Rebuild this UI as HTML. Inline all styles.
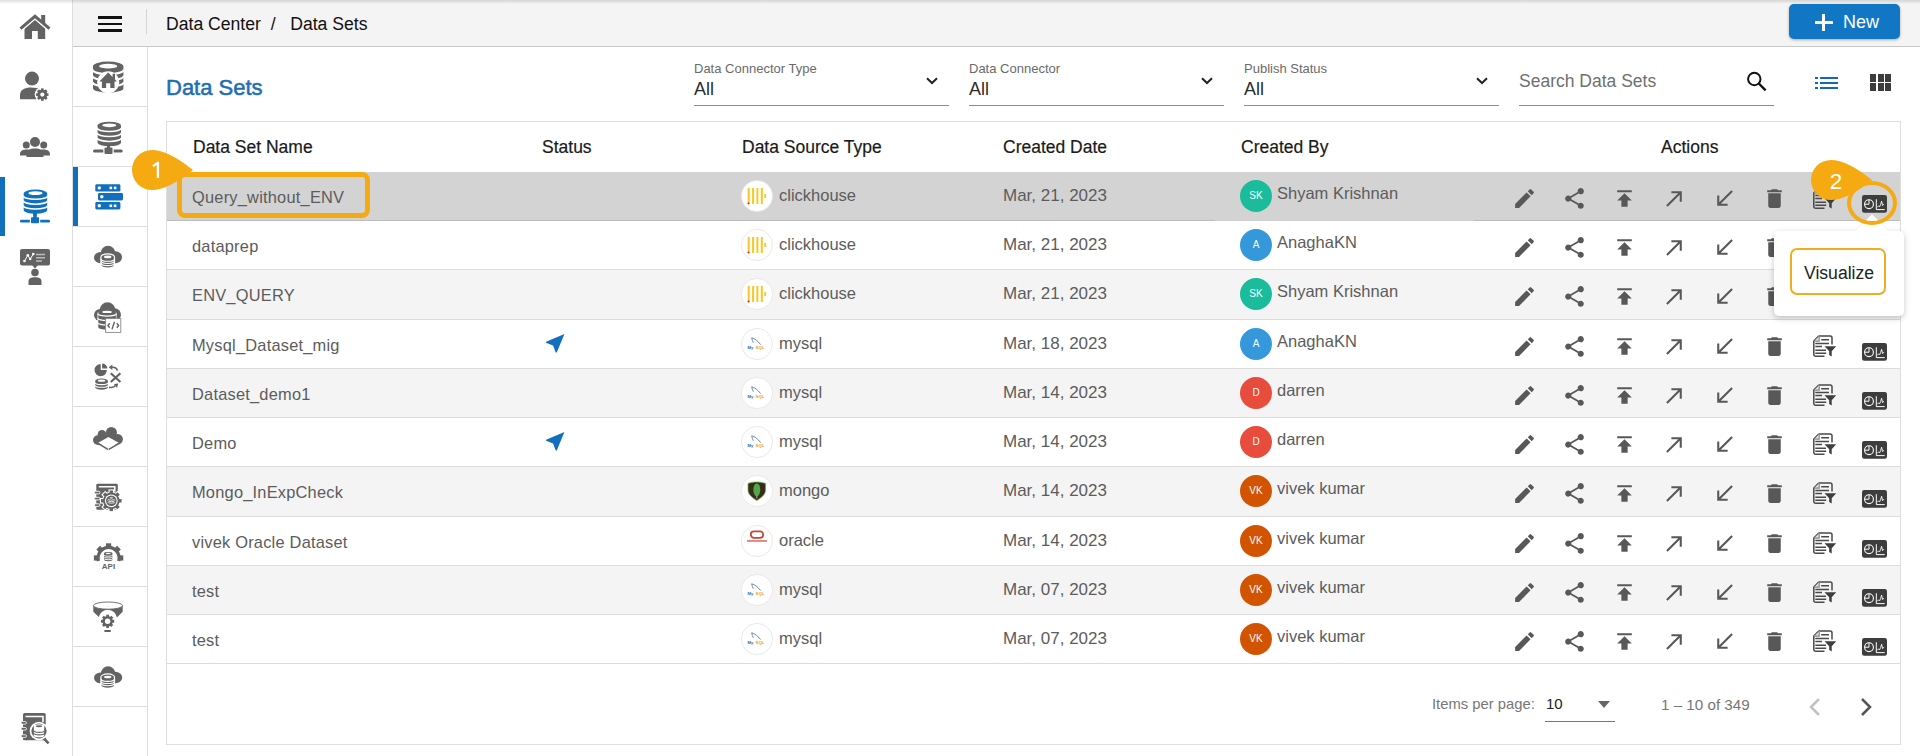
<!DOCTYPE html>
<html><head><meta charset="utf-8">
<style>
*{box-sizing:border-box;margin:0;padding:0}
html,body{width:1920px;height:756px;overflow:hidden;background:#fff;font-family:"Liberation Sans",sans-serif;color:#555}
.a{position:absolute}
svg{display:block;overflow:visible}
.t{position:absolute;white-space:nowrap;line-height:1}
</style></head><body>

<div class="a" style="left:0;top:0;width:72px;height:756px;background:#fff"></div>
<div class="a" style="left:72px;top:0;width:1px;height:756px;background:#dedede"></div>
<div class="a" style="left:73px;top:0;width:1847px;height:46px;background:#f4f4f4"></div>
<div class="a" style="left:73px;top:46px;width:1847px;height:1px;background:#c8c8c8"></div>
<div class="a" style="left:0;top:0;width:1920px;height:4px;background:linear-gradient(rgba(0,0,0,.13),rgba(0,0,0,0))"></div>
<div class="a" style="left:98px;top:16px;width:24px;height:2.6px;background:#111"></div>
<div class="a" style="left:98px;top:22.5px;width:24px;height:2.6px;background:#111"></div>
<div class="a" style="left:98px;top:29px;width:24px;height:2.6px;background:#111"></div>
<div class="a" style="left:146px;top:9px;width:1px;height:25px;background:#d4d4d4"></div>
<div class="t" style="left:166px;top:16px;font-size:17.6px;color:#111">Data Center&nbsp;&nbsp;/&nbsp;&nbsp; Data Sets</div>
<div class="a" style="left:1789px;top:4px;width:111px;height:35px;background:#1177c4;border-radius:5px;box-shadow:0 1px 3px rgba(0,0,0,.3)"></div>
<div class="a" style="left:1815px;top:20.5px;width:17.5px;height:3px;background:#fff"></div>
<div class="a" style="left:1822.3px;top:13.5px;width:3px;height:17px;background:#fff"></div>
<div class="t" style="left:1843px;top:13px;font-size:18px;color:#fff">New</div>
<div class="a" style="left:147px;top:47px;width:1px;height:709px;background:#dedede"></div>
<div class="a" style="left:73px;top:106px;width:74px;height:1px;background:#dedede"></div>
<div class="a" style="left:73px;top:166px;width:74px;height:1px;background:#dedede"></div>
<div class="a" style="left:73px;top:226px;width:74px;height:1px;background:#dedede"></div>
<div class="a" style="left:73px;top:286px;width:74px;height:1px;background:#dedede"></div>
<div class="a" style="left:73px;top:346px;width:74px;height:1px;background:#dedede"></div>
<div class="a" style="left:73px;top:406px;width:74px;height:1px;background:#dedede"></div>
<div class="a" style="left:73px;top:466px;width:74px;height:1px;background:#dedede"></div>
<div class="a" style="left:73px;top:526px;width:74px;height:1px;background:#dedede"></div>
<div class="a" style="left:73px;top:586px;width:74px;height:1px;background:#dedede"></div>
<div class="a" style="left:73px;top:646px;width:74px;height:1px;background:#dedede"></div>
<div class="a" style="left:73px;top:706px;width:74px;height:1px;background:#dedede"></div>
<div class="a" style="left:73px;top:167px;width:5px;height:59px;background:#1170bd"></div>
<div class="a" style="left:0;top:177px;width:5px;height:59px;background:#1170bd"></div>
<svg class="a" style="left:0;top:0" width="150" height="756" viewBox="0 0 150 756">
<path d="M24.5,28.5 35,19.8 45.2,28.5 V39 H37.8 V31 H32 V39 H24.5 Z" fill="#636363"/>
<path d="M20.5,29.2 35,16.8 49.5,29.2" fill="none" stroke="#fff" stroke-width="4.8"/>
<rect x="41.2" y="15" width="4" height="8" fill="#636363"/>
<path d="M20.5,28.6 35,16.3 49.5,28.6" fill="none" stroke="#636363" stroke-width="3.1"/>
<circle cx="32" cy="78.6" r="7" fill="#636363"/>
<path d="M20,99.2 V95 C20,90 25,87.6 31,87.6 C35,87.6 38,88.3 40,89.5 V99.2 Z" fill="#636363"/>
<circle cx="42.3" cy="94.6" r="7.6" fill="#fff"/>
<circle cx="42.3" cy="94.6" r="4.960000000000001" fill="#636363"/><rect x="45.4" y="93.29799999999999" width="3.1" height="2.604" fill="#636363" transform="rotate(0.0 42.3 94.6)"/><rect x="45.4" y="93.29799999999999" width="3.1" height="2.604" fill="#636363" transform="rotate(45.0 42.3 94.6)"/><rect x="45.4" y="93.29799999999999" width="3.1" height="2.604" fill="#636363" transform="rotate(90.0 42.3 94.6)"/><rect x="45.4" y="93.29799999999999" width="3.1" height="2.604" fill="#636363" transform="rotate(135.0 42.3 94.6)"/><rect x="45.4" y="93.29799999999999" width="3.1" height="2.604" fill="#636363" transform="rotate(180.0 42.3 94.6)"/><rect x="45.4" y="93.29799999999999" width="3.1" height="2.604" fill="#636363" transform="rotate(225.0 42.3 94.6)"/><rect x="45.4" y="93.29799999999999" width="3.1" height="2.604" fill="#636363" transform="rotate(270.0 42.3 94.6)"/><rect x="45.4" y="93.29799999999999" width="3.1" height="2.604" fill="#636363" transform="rotate(315.0 42.3 94.6)"/><circle cx="42.3" cy="94.6" r="2.1" fill="#fff"/>
<circle cx="35" cy="142" r="5" fill="#636363"/>
<circle cx="26.3" cy="145" r="3.5" fill="#636363"/>
<circle cx="43.7" cy="145" r="3.5" fill="#636363"/>
<path d="M20,155.5 V154 C20,150.8 23,149.4 27,149.4 C29,149.4 30.5,149.8 31.5,150.3 L38.5,150.3 C39.5,149.8 41,149.4 43,149.4 C47,149.4 50,150.8 50,154 V155.5 Z" fill="#636363"/>
<path d="M26.5,157 V154.5 C26.5,150.5 30,148.6 35,148.6 C40,148.6 43.5,150.5 43.5,154.5 V157 Z" fill="#636363"/>
<path d="M23.7,193.125 A11.75,3.525 0 0 1 47.2,193.125 V210.27499999999998 A11.75,3.525 0 0 1 23.7,210.27499999999998 Z" fill="#1170bd"/><ellipse cx="35.45" cy="193.125" rx="7.05" ry="1.833" fill="#fff"/><path d="M23.2,195.63875 A11.75,3.525 0 0 0 47.7,195.63875" fill="none" stroke="#fff" stroke-width="1.6"/><path d="M23.2,200.51749999999998 A11.75,3.525 0 0 0 47.7,200.51749999999998" fill="none" stroke="#fff" stroke-width="1.6"/><path d="M23.2,205.39624999999998 A11.75,3.525 0 0 0 47.7,205.39624999999998" fill="none" stroke="#fff" stroke-width="1.6"/>
<rect x="33.3" y="213" width="3.4" height="6" fill="#1170bd"/>
<rect x="20" y="219.8" width="30" height="2.8" rx="1.4" fill="#1170bd"/>
<rect x="29.8" y="216.3" width="10.4" height="7.8" fill="#fff"/><rect x="31" y="217.2" width="8" height="6" rx="0.8" fill="#1170bd"/><rect x="33.3" y="213" width="3.4" height="5" fill="#1170bd"/>
<rect x="20" y="249" width="30" height="16.5" rx="2" fill="#636363"/>
<path d="M32,265 35,268.5 38,265Z" fill="#636363"/>
<path d="M24.5,261 27.8,255.3 30.2,259 33.3,254" fill="none" stroke="#fff" stroke-width="1"/><circle cx="24.5" cy="261" r="1.3" fill="#fff"/><circle cx="27.8" cy="255.3" r="1.3" fill="#fff"/><circle cx="30.2" cy="259" r="1.3" fill="#fff"/><circle cx="33.3" cy="254" r="1.3" fill="#fff"/>
<path d="M36,254.5 H45 M36,257.8 H45 M36,261 H42" stroke="#bbb" stroke-width="1.4"/>
<circle cx="35" cy="272.5" r="3.8" fill="#636363"/>
<path d="M28.5,285 V281.5 C28.5,278.5 31,277.2 35,277.2 C39,277.2 41.5,278.5 41.5,281.5 V285 Z" fill="#636363"/>
<rect x="23" y="713" width="22.7" height="27.3" rx="1.5" fill="#636363"/>
<path d="M25.5,716.5 H43 V722" fill="none" stroke="#fff" stroke-width="1.6"/>
<rect x="21" y="721.5" width="5.5" height="2.6" rx="1.3" fill="#636363" stroke="#fff" stroke-width="0.8"/>
<rect x="21" y="727.5" width="5.5" height="2.6" rx="1.3" fill="#636363" stroke="#fff" stroke-width="0.8"/>
<rect x="21" y="734.8" width="5.5" height="2.6" rx="1.3" fill="#636363" stroke="#fff" stroke-width="0.8"/>
<path d="M43,737.5 48.6,743.3" stroke="#636363" stroke-width="2.6"/>
<circle cx="39" cy="731" r="9.3" fill="#fff"/>
<circle cx="39" cy="731" r="7.6" fill="#636363"/>
<path d="M33.8,726.1719999999999 A5.2,1.8719999999999999 0 0 1 44.199999999999996,726.1719999999999 V735.428 A5.2,1.8719999999999999 0 0 1 33.8,735.428 Z" fill="#fff"/><ellipse cx="39.0" cy="726.1719999999999" rx="3.224" ry="0.97344" fill="#636363"/><path d="M33.3,730.2808 A5.2,1.8719999999999999 0 0 0 44.699999999999996,730.2808" fill="none" stroke="#636363" stroke-width="1.1"/><path d="M33.3,732.8543999999999 A5.2,1.8719999999999999 0 0 0 44.699999999999996,732.8543999999999" fill="none" stroke="#636363" stroke-width="1.1"/>
<path d="M93,66.16 A15.2,4.56 0 0 1 123.4,66.16 V88.14 A15.2,4.56 0 0 1 93,88.14 Z" fill="#636363"/><ellipse cx="108.2" cy="66.16" rx="9.12" ry="2.3712" fill="#fff"/><path d="M92.5,69.516 A15.2,4.56 0 0 0 123.9,69.516" fill="none" stroke="#fff" stroke-width="2.2"/><path d="M92.5,75.724 A15.2,4.56 0 0 0 123.9,75.724" fill="none" stroke="#fff" stroke-width="2.2"/><path d="M92.5,81.932 A15.2,4.56 0 0 0 123.9,81.932" fill="none" stroke="#fff" stroke-width="2.2"/>
<circle cx="108.2" cy="82.3" r="11" fill="#fff"/>
<path d="M99.3,81.5 108.2,72.5 112.6,77 V73.8 H115 V79.5 L117,81.5 H114.5 V88 H110.3 V83.2 H106.1 V88 H101.9 V81.5 Z" fill="#636363"/>
<path d="M97.6,125.31 A11.7,3.51 0 0 1 121.0,125.31 V142.79000000000002 A11.7,3.51 0 0 1 97.6,142.79000000000002 Z" fill="#636363"/><ellipse cx="109.3" cy="125.31" rx="7.02" ry="1.8252" fill="#fff"/><path d="M97.1,127.8185 A11.7,3.51 0 0 0 121.5,127.8185" fill="none" stroke="#fff" stroke-width="1.6"/><path d="M97.1,132.809 A11.7,3.51 0 0 0 121.5,132.809" fill="none" stroke="#fff" stroke-width="1.6"/><path d="M97.1,137.79950000000002 A11.7,3.51 0 0 0 121.5,137.79950000000002" fill="none" stroke="#fff" stroke-width="1.6"/>
<rect x="107" y="146" width="3" height="5" fill="#636363"/>
<rect x="93" y="149.5" width="29.7" height="3" rx="1.5" fill="#636363"/>
<rect x="103.3" y="146.5" width="10.4" height="8.3" fill="#fff"/><rect x="104.5" y="147.5" width="8" height="6.5" rx="1" fill="#636363"/><rect x="107" y="146" width="3" height="3" fill="#636363"/>
<rect x="95.3" y="184.3" width="25.10000000000001" height="7.3" rx="1.4" fill="#1170bd"/>
<rect x="98" y="193.1" width="25" height="7.3" rx="1.4" fill="#1170bd"/>
<rect x="95.3" y="202.1" width="25.10000000000001" height="7.3" rx="1.4" fill="#1170bd"/>
<circle cx="99.3" cy="187.9" r="1.7" fill="#fff"/><rect x="109.5" y="186.6" width="2.6" height="2.6" fill="#fff"/><rect x="113.8" y="186.6" width="2.6" height="2.6" fill="#fff"/>
<circle cx="101.8" cy="196.8" r="1.7" fill="#fff"/>
<circle cx="99.3" cy="205.8" r="1.7" fill="#fff"/><rect x="109.5" y="204.5" width="2.6" height="2.6" fill="#fff"/><rect x="113.8" y="204.5" width="2.6" height="2.6" fill="#fff"/>
<circle cx="108.0" cy="253.20000000000002" r="7.4" fill="#636363"/><ellipse cx="100.44" cy="257.64" rx="6.44" ry="5.55" fill="#636363"/><ellipse cx="115.28" cy="257.27000000000004" rx="6.72" ry="5.92" fill="#636363"/><rect x="99.6" y="255.05" width="16.8" height="8.14" fill="#636363"/>
<path d="M100.3,256.88 A7.4,3.6800000000000006 0 0 1 115.10000000000001,256.88 V265.12 A7.4,3.6800000000000006 0 0 1 100.3,265.12 Z" fill="#fff"/><path d="M101.5,256.88 A6.2,2.4800000000000004 0 0 1 113.9,256.88 V265.12 A6.2,2.4800000000000004 0 0 1 101.5,265.12 Z" fill="#636363"/><ellipse cx="107.7" cy="256.88" rx="3.7199999999999998" ry="1.2896000000000003" fill="#fff"/><path d="M101.0,258.628 A6.2,2.4800000000000004 0 0 0 114.4,258.628" fill="none" stroke="#fff" stroke-width="1.1"/><path d="M101.0,260.792 A6.2,2.4800000000000004 0 0 0 114.4,260.792" fill="none" stroke="#fff" stroke-width="1.1"/><path d="M101.0,262.956 A6.2,2.4800000000000004 0 0 0 114.4,262.956" fill="none" stroke="#fff" stroke-width="1.1"/>
<circle cx="107.5" cy="310.3" r="8.0" fill="#636363"/><ellipse cx="100.21" cy="315.1" rx="6.21" ry="6.0" fill="#636363"/><ellipse cx="114.52" cy="314.7" rx="6.4799999999999995" ry="6.4" fill="#636363"/><rect x="99.4" y="312.3" width="16.2" height="8.8" fill="#636363"/>
<path d="M97.5,313 A9.5,3 0 0 1 116.5,313 V326 A9.5,3 0 0 1 97.5,326 Z" fill="#fff"/>
<path d="M98.3,311.88800000000003 A8.8,2.2880000000000003 0 0 1 115.9,311.88800000000003 V327.312 A8.8,2.2880000000000003 0 0 1 98.3,327.312 Z" fill="#636363"/><ellipse cx="107.1" cy="311.88800000000003" rx="4.840000000000001" ry="1.1897600000000002" fill="#fff"/><path d="M97.8,313.72880000000004 A8.8,2.2880000000000003 0 0 0 116.4,313.72880000000004" fill="none" stroke="#fff" stroke-width="1.3"/><path d="M97.8,318.2565333333334 A8.8,2.2880000000000003 0 0 0 116.4,318.2565333333334" fill="none" stroke="#fff" stroke-width="1.3"/><path d="M97.8,322.78426666666667 A8.8,2.2880000000000003 0 0 0 116.4,322.78426666666667" fill="none" stroke="#fff" stroke-width="1.3"/>
<rect x="105.6" y="318.6" width="15.2" height="13.8" fill="#fff" stroke="#888" stroke-width="0.9"/>
<path d="M109.7,323.3 107.9,325.5 109.7,327.7 M116.8,323.3 118.6,325.5 116.8,327.7 M114.5,321.8 112,329.2" fill="none" stroke="#636363" stroke-width="1.4"/>
<path d="M100.7,370.1 V363.9 A6.2,6.2 0 1 0 106.9,370.1 Z" fill="#636363"/>
<path d="M102.1,368.5 V363.5 A5.3,5.3 0 0 1 107.4,368.5 Z" fill="#636363"/>
<path d="M95.2,380.659 A6.35,2.1590000000000003 0 0 1 107.9,380.659 V387.541 A6.35,2.1590000000000003 0 0 1 95.2,387.541 Z" fill="#636363"/><ellipse cx="101.55" cy="380.659" rx="3.8099999999999996" ry="1.1226800000000001" fill="#fff"/><path d="M94.7,382.29465 A6.35,2.1590000000000003 0 0 0 108.4,382.29465" fill="none" stroke="#fff" stroke-width="1.1"/><path d="M94.7,384.917825 A6.35,2.1590000000000003 0 0 0 108.4,384.917825" fill="none" stroke="#fff" stroke-width="1.1"/>
<path d="M110.8,373.2 120.4,382 M120.4,373.2 110.8,382" stroke="#636363" stroke-width="2.2"/>
<path d="M117.4,370.6 C116.8,368 114.5,367 111.5,367.3" fill="none" stroke="#636363" stroke-width="1.7"/><path d="M108.8,367.3 112.3,364.5 112.3,370Z" fill="#636363"/>
<path d="M109,387.3 C112,387.8 114.5,387 115.5,385.4" fill="none" stroke="#636363" stroke-width="1.7"/><path d="M118.2,383.5 114,384 117,388Z" fill="#636363"/>
<circle cx="111.4" cy="432.4" r="5.5" fill="#636363"/><circle cx="102" cy="434.3" r="4.3" fill="#636363"/><circle cx="97.9" cy="440.1" r="4.9" fill="#636363"/><circle cx="117.7" cy="439.2" r="5.2" fill="#636363"/><rect x="97.9" y="434.5" width="19.8" height="10.4" fill="#636363"/>
<path d="M108.4,436.9 118.7,442.8 108.4,448.8 98.3,442.8Z" fill="#fff"/>
<path d="M98.3,442.8 108.4,448.8 118.7,442.8 118.7,444.6 108.4,450.6 98.3,444.6Z" fill="#636363"/>
<path d="M108.4,448.5V450.8" stroke="#fff" stroke-width="0.8"/>
<rect x="96.3" y="483.8" width="21.5" height="26" rx="1.4" fill="#636363"/>
<path d="M98.8,486.8 H114.8 V491.5" fill="none" stroke="#fff" stroke-width="1.5"/>
<rect x="94.4" y="491.3" width="5.6" height="2.6" rx="1.3" fill="#636363" stroke="#fff" stroke-width="0.9"/>
<rect x="94.4" y="497.3" width="5.6" height="2.6" rx="1.3" fill="#636363" stroke="#fff" stroke-width="0.9"/>
<rect x="94.4" y="503.8" width="5.6" height="2.6" rx="1.3" fill="#636363" stroke="#fff" stroke-width="0.9"/>
<circle cx="111.3" cy="500.8" r="9.34" fill="#fff"/><rect x="116.45" y="498.0" width="6.25" height="5.6" fill="#fff" transform="rotate(0.0 111.3 500.8)"/><rect x="116.45" y="498.0" width="6.25" height="5.6" fill="#fff" transform="rotate(45.0 111.3 500.8)"/><rect x="116.45" y="498.0" width="6.25" height="5.6" fill="#fff" transform="rotate(90.0 111.3 500.8)"/><rect x="116.45" y="498.0" width="6.25" height="5.6" fill="#fff" transform="rotate(135.0 111.3 500.8)"/><rect x="116.45" y="498.0" width="6.25" height="5.6" fill="#fff" transform="rotate(180.0 111.3 500.8)"/><rect x="116.45" y="498.0" width="6.25" height="5.6" fill="#fff" transform="rotate(225.0 111.3 500.8)"/><rect x="116.45" y="498.0" width="6.25" height="5.6" fill="#fff" transform="rotate(270.0 111.3 500.8)"/><rect x="116.45" y="498.0" width="6.25" height="5.6" fill="#fff" transform="rotate(315.0 111.3 500.8)"/><circle cx="111.3" cy="500.8" r="8.24" fill="#636363"/><rect x="116.45" y="499.1" width="5.15" height="3.4" fill="#636363" transform="rotate(0.0 111.3 500.8)"/><rect x="116.45" y="499.1" width="5.15" height="3.4" fill="#636363" transform="rotate(45.0 111.3 500.8)"/><rect x="116.45" y="499.1" width="5.15" height="3.4" fill="#636363" transform="rotate(90.0 111.3 500.8)"/><rect x="116.45" y="499.1" width="5.15" height="3.4" fill="#636363" transform="rotate(135.0 111.3 500.8)"/><rect x="116.45" y="499.1" width="5.15" height="3.4" fill="#636363" transform="rotate(180.0 111.3 500.8)"/><rect x="116.45" y="499.1" width="5.15" height="3.4" fill="#636363" transform="rotate(225.0 111.3 500.8)"/><rect x="116.45" y="499.1" width="5.15" height="3.4" fill="#636363" transform="rotate(270.0 111.3 500.8)"/><rect x="116.45" y="499.1" width="5.15" height="3.4" fill="#636363" transform="rotate(315.0 111.3 500.8)"/>
<circle cx="111.3" cy="500.8" r="6.4" fill="#fff"/>
<circle cx="111.3" cy="500.8" r="5.3" fill="#636363"/>
<path d="M108.2,497.854 A3.1,1.054 0 0 1 114.4,497.854 V503.54600000000005 A3.1,1.054 0 0 1 108.2,503.54600000000005 Z" fill="#636363"/><ellipse cx="111.3" cy="497.854" rx="1.8599999999999999" ry="0.54808" fill="#fff"/><path d="M107.7,498.86289999999997 A3.1,1.054 0 0 0 114.9,498.86289999999997" fill="none" stroke="#fff" stroke-width="0.8"/><path d="M107.7,500.4239333333333 A3.1,1.054 0 0 0 114.9,500.4239333333333" fill="none" stroke="#fff" stroke-width="0.8"/><path d="M107.7,501.9849666666667 A3.1,1.054 0 0 0 114.9,501.9849666666667" fill="none" stroke="#fff" stroke-width="0.8"/>
<path d="M96.93,561.57 A12.2,12.2 0 1 1 120.27,561.57 L117.11,560.60 A8.9,8.9 0 1 0 100.09,560.60 Z" fill="#636363"/>
<rect x="118.6" y="555.4" width="4.7" height="5.2" fill="#636363" transform="rotate(180 108.6 558)"/>
<rect x="118.6" y="555.4" width="4.7" height="5.2" fill="#636363" transform="rotate(225 108.6 558)"/>
<rect x="118.6" y="555.4" width="4.7" height="5.2" fill="#636363" transform="rotate(270 108.6 558)"/>
<rect x="118.6" y="555.4" width="4.7" height="5.2" fill="#636363" transform="rotate(315 108.6 558)"/>
<rect x="118.6" y="555.4" width="4.7" height="5.2" fill="#636363" transform="rotate(0 108.6 558)"/>
<path d="M104,553.428 A4.2,1.4280000000000002 0 0 1 112.4,553.428 V559.872 A4.2,1.4280000000000002 0 0 1 104,559.872 Z" fill="#636363"/><ellipse cx="108.2" cy="553.428" rx="2.52" ry="0.7425600000000001" fill="#fff"/><path d="M103.5,554.6478000000001 A4.2,1.4280000000000002 0 0 0 112.9,554.6478000000001" fill="none" stroke="#fff" stroke-width="0.9"/><path d="M103.5,556.3892000000001 A4.2,1.4280000000000002 0 0 0 112.9,556.3892000000001" fill="none" stroke="#fff" stroke-width="0.9"/><path d="M103.5,558.1306 A4.2,1.4280000000000002 0 0 0 112.9,558.1306" fill="none" stroke="#fff" stroke-width="0.9"/>
<text x="108.5" y="568.5" font-family="Liberation Sans" font-weight="bold" font-size="8" text-anchor="middle" fill="#636363">API</text>
<path d="M93.3,605.6 V611.8 L98.8,617 A9.2,9.2 0 0 1 116.9,617.6 L122.7,611.8 V605.6 Z" fill="#636363"/>
<ellipse cx="108" cy="605.6" rx="14.6" ry="3.6" fill="#fff" stroke="#636363" stroke-width="0.9"/>
<circle cx="107.6" cy="621.3" r="5.28" fill="#636363"/><rect x="110.89999999999999" y="619.9" width="3.3" height="2.8" fill="#636363" transform="rotate(0.0 107.6 621.3)"/><rect x="110.89999999999999" y="619.9" width="3.3" height="2.8" fill="#636363" transform="rotate(45.0 107.6 621.3)"/><rect x="110.89999999999999" y="619.9" width="3.3" height="2.8" fill="#636363" transform="rotate(90.0 107.6 621.3)"/><rect x="110.89999999999999" y="619.9" width="3.3" height="2.8" fill="#636363" transform="rotate(135.0 107.6 621.3)"/><rect x="110.89999999999999" y="619.9" width="3.3" height="2.8" fill="#636363" transform="rotate(180.0 107.6 621.3)"/><rect x="110.89999999999999" y="619.9" width="3.3" height="2.8" fill="#636363" transform="rotate(225.0 107.6 621.3)"/><rect x="110.89999999999999" y="619.9" width="3.3" height="2.8" fill="#636363" transform="rotate(270.0 107.6 621.3)"/><rect x="110.89999999999999" y="619.9" width="3.3" height="2.8" fill="#636363" transform="rotate(315.0 107.6 621.3)"/><circle cx="107.6" cy="621.3" r="2.7" fill="#fff"/>
<rect x="104.4" y="630" width="6.4" height="2" fill="#636363"/>
<circle cx="108.1" cy="673.5" r="7.2" fill="#636363"/><ellipse cx="100.486" cy="677.8199999999999" rx="6.486" ry="5.3999999999999995" fill="#636363"/><ellipse cx="115.432" cy="677.4599999999999" rx="6.768" ry="5.76" fill="#636363"/><rect x="99.64" y="675.3" width="16.919999999999998" height="7.92" fill="#636363"/>
<path d="M100.3,676.98 A7.4,3.6800000000000006 0 0 1 115.10000000000001,676.98 V685.22 A7.4,3.6800000000000006 0 0 1 100.3,685.22 Z" fill="#fff"/><path d="M101.5,676.98 A6.2,2.4800000000000004 0 0 1 113.9,676.98 V685.22 A6.2,2.4800000000000004 0 0 1 101.5,685.22 Z" fill="#636363"/><ellipse cx="107.7" cy="676.98" rx="3.7199999999999998" ry="1.2896000000000003" fill="#fff"/><path d="M101.0,678.7280000000001 A6.2,2.4800000000000004 0 0 0 114.4,678.7280000000001" fill="none" stroke="#fff" stroke-width="1.1"/><path d="M101.0,680.892 A6.2,2.4800000000000004 0 0 0 114.4,680.892" fill="none" stroke="#fff" stroke-width="1.1"/><path d="M101.0,683.056 A6.2,2.4800000000000004 0 0 0 114.4,683.056" fill="none" stroke="#fff" stroke-width="1.1"/>
</svg>
<div class="t" style="left:166px;top:77px;font-size:22px;-webkit-text-stroke:0.55px #1f6fb2;color:#1f6fb2">Data Sets</div>
<div class="t" style="left:694px;top:62px;font-size:13px;color:#6a6a6a">Data Connector Type</div>
<div class="t" style="left:694px;top:80px;font-size:18px;color:#2c2c2c">All</div>
<div class="a" style="left:694px;top:105px;width:255px;height:1px;background:#8c8c8c"></div>
<svg class="a" style="left:926px;top:77px" width="12" height="8" viewBox="0 0 12 8"><path d="M1 1.2 6 6 11 1.2" fill="none" stroke="#222" stroke-width="2"/></svg>
<div class="t" style="left:969px;top:62px;font-size:13px;color:#6a6a6a">Data Connector</div>
<div class="t" style="left:969px;top:80px;font-size:18px;color:#2c2c2c">All</div>
<div class="a" style="left:969px;top:105px;width:255px;height:1px;background:#8c8c8c"></div>
<svg class="a" style="left:1201px;top:77px" width="12" height="8" viewBox="0 0 12 8"><path d="M1 1.2 6 6 11 1.2" fill="none" stroke="#222" stroke-width="2"/></svg>
<div class="t" style="left:1244px;top:62px;font-size:13px;color:#6a6a6a">Publish Status</div>
<div class="t" style="left:1244px;top:80px;font-size:18px;color:#2c2c2c">All</div>
<div class="a" style="left:1244px;top:105px;width:255px;height:1px;background:#8c8c8c"></div>
<svg class="a" style="left:1476px;top:77px" width="12" height="8" viewBox="0 0 12 8"><path d="M1 1.2 6 6 11 1.2" fill="none" stroke="#222" stroke-width="2"/></svg>
<div class="t" style="left:1519px;top:73px;font-size:17.5px;color:#707070">Search Data Sets</div>
<div class="a" style="left:1519px;top:105px;width:255px;height:1px;background:#8c8c8c"></div>
<svg class="a" style="left:1746px;top:71px" width="22" height="22" viewBox="0 0 22 22"><circle cx="8.3" cy="8" r="6.2" fill="none" stroke="#111" stroke-width="2"/><path d="M12.8 12.5 19.6 19.3" stroke="#111" stroke-width="2.4"/></svg>
<div class="a" style="left:1815px;top:77px;width:3px;height:2px;background:#1565b8"></div>
<div class="a" style="left:1820px;top:77px;width:18px;height:2px;background:#1565b8"></div>
<div class="a" style="left:1815px;top:82px;width:3px;height:2px;background:#1565b8"></div>
<div class="a" style="left:1820px;top:82px;width:18px;height:2px;background:#1565b8"></div>
<div class="a" style="left:1815px;top:87px;width:3px;height:2px;background:#1565b8"></div>
<div class="a" style="left:1820px;top:87px;width:18px;height:2px;background:#1565b8"></div>
<div class="a" style="left:1870px;top:74px;width:6px;height:7.5px;background:#3c3c3c"></div>
<div class="a" style="left:1870px;top:83px;width:6px;height:7.5px;background:#3c3c3c"></div>
<div class="a" style="left:1878px;top:74px;width:6px;height:7.5px;background:#3c3c3c"></div>
<div class="a" style="left:1878px;top:83px;width:6px;height:7.5px;background:#3c3c3c"></div>
<div class="a" style="left:1885px;top:74px;width:6px;height:7.5px;background:#3c3c3c"></div>
<div class="a" style="left:1885px;top:83px;width:6px;height:7.5px;background:#3c3c3c"></div>
<div class="a" style="left:166px;top:121px;width:1735px;height:624px;border:1px solid #dedede"></div>
<div class="t" style="left:193px;top:139px;font-size:17.5px;color:#1b1b1b;-webkit-text-stroke:0.2px #1b1b1b">Data Set Name</div>
<div class="t" style="left:542px;top:139px;font-size:17.5px;color:#1b1b1b;-webkit-text-stroke:0.2px #1b1b1b">Status</div>
<div class="t" style="left:742px;top:139px;font-size:17.5px;color:#1b1b1b;-webkit-text-stroke:0.2px #1b1b1b">Data Source Type</div>
<div class="t" style="left:1003px;top:139px;font-size:17.5px;color:#1b1b1b;-webkit-text-stroke:0.2px #1b1b1b">Created Date</div>
<div class="t" style="left:1241px;top:139px;font-size:17.5px;color:#1b1b1b;-webkit-text-stroke:0.2px #1b1b1b">Created By</div>
<div class="t" style="left:1661px;top:139px;font-size:17.5px;color:#1b1b1b;-webkit-text-stroke:0.2px #1b1b1b">Actions</div>
<div class="a" style="left:167px;top:172px;width:1733px;height:48px;background:#d3d3d3"></div>
<div class="a" style="left:167px;top:220px;width:1733px;height:1px;background:#bcbcbc"></div>
<div class="a" style="left:1215px;top:220px;width:259px;height:1px;background:#d0d0d0"></div>
<div class="t" style="left:192px;top:188.7px;font-size:16.4px;letter-spacing:0.22px;color:#5c5c5c">Query_without_ENV</div>
<svg class="a" style="left:740px;top:179px" width="34" height="34" viewBox="-17 -17 34 34"><circle cx="0" cy="0" r="15.6" fill="#fff" stroke="#e6e6e6" stroke-width="0.9"/><rect x="-9.3" y="-8" width="2" height="16" fill="#f5c823"/><rect x="-4.9" y="-8" width="2" height="16" fill="#f5c823"/><rect x="-0.6" y="-8" width="2" height="16" fill="#f5c823"/><rect x="3.8" y="-8" width="2" height="16" fill="#f5c823"/><rect x="7.3" y="-2" width="1.8" height="4" fill="#f5c823"/><circle cx="-8.5" cy="7.6" r="1" fill="#d02a1e"/></svg>
<div class="t" style="left:779px;top:186.5px;font-size:16.5px;color:#5c5c5c">clickhouse</div>
<div class="t" style="left:1003px;top:187.4px;font-size:17px;color:#5c5c5c">Mar, 21, 2023</div>
<div class="a" style="left:1240px;top:180px;width:32px;height:32px;border-radius:50%;background:#1abc9c;color:#fff;font-size:10px;line-height:32px;text-align:center">SK</div>
<div class="t" style="left:1277px;top:185px;font-size:16.5px;color:#5c5c5c">Shyam Krishnan</div>
<svg class="a" style="left:1511.5px;top:185.8px" width="25" height="25" viewBox="0 0 24 24"><path fill="#585858" d="M3 17.25V21h3.75L17.81 9.94l-3.75-3.75L3 17.25zM20.71 7.04a1 1 0 0 0 0-1.41l-2.34-2.34a1 1 0 0 0-1.41 0l-1.83 1.83 3.75 3.75 1.83-1.83z"/></svg>
<svg class="a" style="left:1561.5px;top:185.8px" width="25" height="25" viewBox="0 0 24 24"><path fill="#585858" d="M18 16.08c-.76 0-1.44.3-1.96.77L8.91 12.7c.05-.23.09-.46.09-.7s-.04-.47-.09-.7l7.05-4.11c.54.5 1.25.81 2.04.81 1.66 0 3-1.34 3-3s-1.34-3-3-3-3 1.34-3 3c0 .24.04.47.09.7L8.04 9.81C7.5 9.31 6.79 9 6 9c-1.66 0-3 1.34-3 3s1.34 3 3 3c.79 0 1.5-.31 2.04-.81l7.12 4.16c-.05.21-.08.43-.08.65 0 1.61 1.31 2.92 2.92 2.92 1.61 0 2.92-1.31 2.92-2.92s-1.310-2.92-2.92-2.92z"/></svg>
<svg class="a" style="left:1611.5px;top:185.8px" width="25" height="25" viewBox="0 0 24 24"><path fill="#585858" d="M5 4v2h14V4H5zm0 10h4v6h6v-6h4l-7-7-7 7z"/></svg>
<svg class="a" style="left:1661.5px;top:185.8px" width="25" height="25" viewBox="0 0 24 24"><path fill="#585858" d="M9 5v2h6.59L4 18.59 5.41 20 17 8.41V15h2V5z"/></svg>
<svg class="a" style="left:1711.5px;top:185.8px" width="25" height="25" viewBox="0 0 24 24"><path fill="#585858" d="M20 5.41L18.59 4 7 15.59V9H5v10h10v-2H8.41z"/></svg>
<svg class="a" style="left:1761.5px;top:185.8px" width="25" height="25" viewBox="0 0 24 24"><path fill="#585858" d="M6 19c0 1.1.9 2 2 2h8c1.1 0 2-.9 2-2V7H6v12zM19 4h-3.5l-1-1h-5l-1 1H5v2h14V4z"/></svg>
<svg class="a" style="left:1813px;top:187px" width="24" height="22" viewBox="0 0 24 22"><path d="M6 0.9H17.2a1.8 1.8 0 0 1 1.8 1.8V9.5" fill="none" stroke="#4a4a4a" stroke-width="1.5"/><path d="M6 0.9 0.8 6V19.5a1.8 1.8 0 0 0 1.8 1.8H11.5" fill="none" stroke="#4a4a4a" stroke-width="1.5"/><path d="M1 6.2H6.2V1" fill="#ddd" stroke="#888" stroke-width="1.2"/><path d="M8.2 4.7H16M2.3 8.5H16M2.3 11.5H9M2.3 15.2H13M2.3 18.3H13.2" stroke="#4a4a4a" stroke-width="1.4"/><path d="M11.5 11.2H23.2L18.7 16.2V21.5L16.2 20V16.2Z" fill="#3e3e3e"/></svg>
<svg class="a" style="left:1862px;top:195px" width="25" height="18" viewBox="0 0 25 18"><rect x="0" y="0" width="25" height="17.7" rx="2.2" fill="#3d3d3d"/><circle cx="7" cy="9.2" r="4.4" fill="none" stroke="#fff" stroke-width="1.1"/><path d="M7 4.9V9.2H2.7" fill="none" stroke="#fff" stroke-width="1"/><path d="M14.3 4.2V14.6H22.7" fill="none" stroke="#fff" stroke-width="1"/><path d="M15.4 12.2 16.6 10.8 17.6 11.8 18.6 9.6 19.6 6.2 20.6 10.6 21.8 9.2" fill="none" stroke="#fff" stroke-width="0.9"/></svg>
<div class="a" style="left:167px;top:221px;width:1733px;height:48px;background:#fff"></div>
<div class="a" style="left:167px;top:269px;width:1733px;height:1px;background:#dcdcdc"></div>
<div class="t" style="left:192px;top:237.7px;font-size:16.4px;letter-spacing:0.22px;color:#5c5c5c">dataprep</div>
<svg class="a" style="left:740px;top:228px" width="34" height="34" viewBox="-17 -17 34 34"><circle cx="0" cy="0" r="15.6" fill="#fff" stroke="#e6e6e6" stroke-width="0.9"/><rect x="-9.3" y="-8" width="2" height="16" fill="#f5c823"/><rect x="-4.9" y="-8" width="2" height="16" fill="#f5c823"/><rect x="-0.6" y="-8" width="2" height="16" fill="#f5c823"/><rect x="3.8" y="-8" width="2" height="16" fill="#f5c823"/><rect x="7.3" y="-2" width="1.8" height="4" fill="#f5c823"/><circle cx="-8.5" cy="7.6" r="1" fill="#d02a1e"/></svg>
<div class="t" style="left:779px;top:235.5px;font-size:16.5px;color:#5c5c5c">clickhouse</div>
<div class="t" style="left:1003px;top:236.4px;font-size:17px;color:#5c5c5c">Mar, 21, 2023</div>
<div class="a" style="left:1240px;top:229px;width:32px;height:32px;border-radius:50%;background:#3498db;color:#fff;font-size:10px;line-height:32px;text-align:center">A</div>
<div class="t" style="left:1277px;top:234px;font-size:16.5px;color:#5c5c5c">AnaghaKN</div>
<svg class="a" style="left:1511.5px;top:234.8px" width="25" height="25" viewBox="0 0 24 24"><path fill="#585858" d="M3 17.25V21h3.75L17.81 9.94l-3.75-3.75L3 17.25zM20.71 7.04a1 1 0 0 0 0-1.41l-2.34-2.34a1 1 0 0 0-1.41 0l-1.83 1.83 3.75 3.75 1.83-1.83z"/></svg>
<svg class="a" style="left:1561.5px;top:234.8px" width="25" height="25" viewBox="0 0 24 24"><path fill="#585858" d="M18 16.08c-.76 0-1.44.3-1.96.77L8.91 12.7c.05-.23.09-.46.09-.7s-.04-.47-.09-.7l7.05-4.11c.54.5 1.25.81 2.04.81 1.66 0 3-1.34 3-3s-1.34-3-3-3-3 1.34-3 3c0 .24.04.47.09.7L8.04 9.81C7.5 9.31 6.79 9 6 9c-1.66 0-3 1.34-3 3s1.34 3 3 3c.79 0 1.5-.31 2.04-.81l7.12 4.16c-.05.21-.08.43-.08.65 0 1.61 1.31 2.92 2.92 2.92 1.61 0 2.92-1.31 2.92-2.92s-1.310-2.92-2.92-2.92z"/></svg>
<svg class="a" style="left:1611.5px;top:234.8px" width="25" height="25" viewBox="0 0 24 24"><path fill="#585858" d="M5 4v2h14V4H5zm0 10h4v6h6v-6h4l-7-7-7 7z"/></svg>
<svg class="a" style="left:1661.5px;top:234.8px" width="25" height="25" viewBox="0 0 24 24"><path fill="#585858" d="M9 5v2h6.59L4 18.59 5.41 20 17 8.41V15h2V5z"/></svg>
<svg class="a" style="left:1711.5px;top:234.8px" width="25" height="25" viewBox="0 0 24 24"><path fill="#585858" d="M20 5.41L18.59 4 7 15.59V9H5v10h10v-2H8.41z"/></svg>
<svg class="a" style="left:1761.5px;top:234.8px" width="25" height="25" viewBox="0 0 24 24"><path fill="#585858" d="M6 19c0 1.1.9 2 2 2h8c1.1 0 2-.9 2-2V7H6v12zM19 4h-3.5l-1-1h-5l-1 1H5v2h14V4z"/></svg>
<div class="a" style="left:167px;top:270px;width:1733px;height:49px;background:#f4f4f4"></div>
<div class="a" style="left:167px;top:319px;width:1733px;height:1px;background:#dcdcdc"></div>
<div class="t" style="left:192px;top:286.7px;font-size:16.4px;letter-spacing:0.22px;color:#5c5c5c">ENV_QUERY</div>
<svg class="a" style="left:740px;top:277px" width="34" height="34" viewBox="-17 -17 34 34"><circle cx="0" cy="0" r="15.6" fill="#fff" stroke="#e6e6e6" stroke-width="0.9"/><rect x="-9.3" y="-8" width="2" height="16" fill="#f5c823"/><rect x="-4.9" y="-8" width="2" height="16" fill="#f5c823"/><rect x="-0.6" y="-8" width="2" height="16" fill="#f5c823"/><rect x="3.8" y="-8" width="2" height="16" fill="#f5c823"/><rect x="7.3" y="-2" width="1.8" height="4" fill="#f5c823"/><circle cx="-8.5" cy="7.6" r="1" fill="#d02a1e"/></svg>
<div class="t" style="left:779px;top:284.5px;font-size:16.5px;color:#5c5c5c">clickhouse</div>
<div class="t" style="left:1003px;top:285.4px;font-size:17px;color:#5c5c5c">Mar, 21, 2023</div>
<div class="a" style="left:1240px;top:278px;width:32px;height:32px;border-radius:50%;background:#1abc9c;color:#fff;font-size:10px;line-height:32px;text-align:center">SK</div>
<div class="t" style="left:1277px;top:283px;font-size:16.5px;color:#5c5c5c">Shyam Krishnan</div>
<svg class="a" style="left:1511.5px;top:283.8px" width="25" height="25" viewBox="0 0 24 24"><path fill="#585858" d="M3 17.25V21h3.75L17.81 9.94l-3.75-3.75L3 17.25zM20.71 7.04a1 1 0 0 0 0-1.41l-2.34-2.34a1 1 0 0 0-1.41 0l-1.83 1.83 3.75 3.75 1.83-1.83z"/></svg>
<svg class="a" style="left:1561.5px;top:283.8px" width="25" height="25" viewBox="0 0 24 24"><path fill="#585858" d="M18 16.08c-.76 0-1.44.3-1.96.77L8.91 12.7c.05-.23.09-.46.09-.7s-.04-.47-.09-.7l7.05-4.11c.54.5 1.25.81 2.04.81 1.66 0 3-1.34 3-3s-1.34-3-3-3-3 1.34-3 3c0 .24.04.47.09.7L8.04 9.81C7.5 9.31 6.79 9 6 9c-1.66 0-3 1.34-3 3s1.34 3 3 3c.79 0 1.5-.31 2.04-.81l7.12 4.16c-.05.21-.08.43-.08.65 0 1.61 1.31 2.92 2.92 2.92 1.61 0 2.92-1.31 2.92-2.92s-1.310-2.92-2.92-2.92z"/></svg>
<svg class="a" style="left:1611.5px;top:283.8px" width="25" height="25" viewBox="0 0 24 24"><path fill="#585858" d="M5 4v2h14V4H5zm0 10h4v6h6v-6h4l-7-7-7 7z"/></svg>
<svg class="a" style="left:1661.5px;top:283.8px" width="25" height="25" viewBox="0 0 24 24"><path fill="#585858" d="M9 5v2h6.59L4 18.59 5.41 20 17 8.41V15h2V5z"/></svg>
<svg class="a" style="left:1711.5px;top:283.8px" width="25" height="25" viewBox="0 0 24 24"><path fill="#585858" d="M20 5.41L18.59 4 7 15.59V9H5v10h10v-2H8.41z"/></svg>
<svg class="a" style="left:1761.5px;top:283.8px" width="25" height="25" viewBox="0 0 24 24"><path fill="#585858" d="M6 19c0 1.1.9 2 2 2h8c1.1 0 2-.9 2-2V7H6v12zM19 4h-3.5l-1-1h-5l-1 1H5v2h14V4z"/></svg>
<div class="a" style="left:167px;top:320px;width:1733px;height:48px;background:#fff"></div>
<div class="a" style="left:167px;top:368px;width:1733px;height:1px;background:#dcdcdc"></div>
<div class="t" style="left:192px;top:336.7px;font-size:16.4px;letter-spacing:0.22px;color:#5c5c5c">Mysql_Dataset_mig</div>
<svg class="a" style="left:542.5px;top:331.3px" width="24.5" height="24.5" viewBox="0 0 24 24"><path fill="#1170bd" d="M21 3 3 10.53v.98l6.84 2.65L12.48 21h.98L21 3z"/></svg>
<svg class="a" style="left:740px;top:327px" width="34" height="34" viewBox="-17 -17 34 34"><circle cx="0" cy="0" r="15.6" fill="#fff" stroke="#e6e6e6" stroke-width="0.9"/><path d="M-5.3,-6.2 C-2.5,-5.6 0.8,-3.2 3.6,0.6 M-5.3,-6.2 C-4.9,-4.2 -4.4,-2.6 -3.6,-1.2" fill="none" stroke="#3e6e8e" stroke-width="0.75"/><text x="-9.4" y="4.9" font-family="Liberation Sans" font-weight="bold" font-size="4.2" fill="#2b6c96">My</text><text x="-1.4" y="4.9" font-family="Liberation Sans" font-weight="bold" font-size="4.2" fill="#e89a2c">SQL</text></svg>
<div class="t" style="left:779px;top:334.5px;font-size:16.5px;color:#5c5c5c">mysql</div>
<div class="t" style="left:1003px;top:335.4px;font-size:17px;color:#5c5c5c">Mar, 18, 2023</div>
<div class="a" style="left:1240px;top:328px;width:32px;height:32px;border-radius:50%;background:#3498db;color:#fff;font-size:10px;line-height:32px;text-align:center">A</div>
<div class="t" style="left:1277px;top:333px;font-size:16.5px;color:#5c5c5c">AnaghaKN</div>
<svg class="a" style="left:1511.5px;top:333.8px" width="25" height="25" viewBox="0 0 24 24"><path fill="#585858" d="M3 17.25V21h3.75L17.81 9.94l-3.75-3.75L3 17.25zM20.71 7.04a1 1 0 0 0 0-1.41l-2.34-2.34a1 1 0 0 0-1.41 0l-1.83 1.83 3.75 3.75 1.83-1.83z"/></svg>
<svg class="a" style="left:1561.5px;top:333.8px" width="25" height="25" viewBox="0 0 24 24"><path fill="#585858" d="M18 16.08c-.76 0-1.44.3-1.96.77L8.91 12.7c.05-.23.09-.46.09-.7s-.04-.47-.09-.7l7.05-4.11c.54.5 1.25.81 2.04.81 1.66 0 3-1.34 3-3s-1.34-3-3-3-3 1.34-3 3c0 .24.04.47.09.7L8.04 9.81C7.5 9.31 6.79 9 6 9c-1.66 0-3 1.34-3 3s1.34 3 3 3c.79 0 1.5-.31 2.04-.81l7.12 4.16c-.05.21-.08.43-.08.65 0 1.61 1.31 2.92 2.92 2.92 1.61 0 2.92-1.31 2.92-2.92s-1.310-2.92-2.92-2.92z"/></svg>
<svg class="a" style="left:1611.5px;top:333.8px" width="25" height="25" viewBox="0 0 24 24"><path fill="#585858" d="M5 4v2h14V4H5zm0 10h4v6h6v-6h4l-7-7-7 7z"/></svg>
<svg class="a" style="left:1661.5px;top:333.8px" width="25" height="25" viewBox="0 0 24 24"><path fill="#585858" d="M9 5v2h6.59L4 18.59 5.41 20 17 8.41V15h2V5z"/></svg>
<svg class="a" style="left:1711.5px;top:333.8px" width="25" height="25" viewBox="0 0 24 24"><path fill="#585858" d="M20 5.41L18.59 4 7 15.59V9H5v10h10v-2H8.41z"/></svg>
<svg class="a" style="left:1761.5px;top:333.8px" width="25" height="25" viewBox="0 0 24 24"><path fill="#585858" d="M6 19c0 1.1.9 2 2 2h8c1.1 0 2-.9 2-2V7H6v12zM19 4h-3.5l-1-1h-5l-1 1H5v2h14V4z"/></svg>
<svg class="a" style="left:1813px;top:335px" width="24" height="22" viewBox="0 0 24 22"><path d="M6 0.9H17.2a1.8 1.8 0 0 1 1.8 1.8V9.5" fill="none" stroke="#4a4a4a" stroke-width="1.5"/><path d="M6 0.9 0.8 6V19.5a1.8 1.8 0 0 0 1.8 1.8H11.5" fill="none" stroke="#4a4a4a" stroke-width="1.5"/><path d="M1 6.2H6.2V1" fill="#ddd" stroke="#888" stroke-width="1.2"/><path d="M8.2 4.7H16M2.3 8.5H16M2.3 11.5H9M2.3 15.2H13M2.3 18.3H13.2" stroke="#4a4a4a" stroke-width="1.4"/><path d="M11.5 11.2H23.2L18.7 16.2V21.5L16.2 20V16.2Z" fill="#3e3e3e"/></svg>
<svg class="a" style="left:1862px;top:343px" width="25" height="18" viewBox="0 0 25 18"><rect x="0" y="0" width="25" height="17.7" rx="2.2" fill="#3d3d3d"/><circle cx="7" cy="9.2" r="4.4" fill="none" stroke="#fff" stroke-width="1.1"/><path d="M7 4.9V9.2H2.7" fill="none" stroke="#fff" stroke-width="1"/><path d="M14.3 4.2V14.6H22.7" fill="none" stroke="#fff" stroke-width="1"/><path d="M15.4 12.2 16.6 10.8 17.6 11.8 18.6 9.6 19.6 6.2 20.6 10.6 21.8 9.2" fill="none" stroke="#fff" stroke-width="0.9"/></svg>
<div class="a" style="left:167px;top:369px;width:1733px;height:48px;background:#f4f4f4"></div>
<div class="a" style="left:167px;top:417px;width:1733px;height:1px;background:#dcdcdc"></div>
<div class="t" style="left:192px;top:385.7px;font-size:16.4px;letter-spacing:0.22px;color:#5c5c5c">Dataset_demo1</div>
<svg class="a" style="left:740px;top:376px" width="34" height="34" viewBox="-17 -17 34 34"><circle cx="0" cy="0" r="15.6" fill="#fff" stroke="#e6e6e6" stroke-width="0.9"/><path d="M-5.3,-6.2 C-2.5,-5.6 0.8,-3.2 3.6,0.6 M-5.3,-6.2 C-4.9,-4.2 -4.4,-2.6 -3.6,-1.2" fill="none" stroke="#3e6e8e" stroke-width="0.75"/><text x="-9.4" y="4.9" font-family="Liberation Sans" font-weight="bold" font-size="4.2" fill="#2b6c96">My</text><text x="-1.4" y="4.9" font-family="Liberation Sans" font-weight="bold" font-size="4.2" fill="#e89a2c">SQL</text></svg>
<div class="t" style="left:779px;top:383.5px;font-size:16.5px;color:#5c5c5c">mysql</div>
<div class="t" style="left:1003px;top:384.4px;font-size:17px;color:#5c5c5c">Mar, 14, 2023</div>
<div class="a" style="left:1240px;top:377px;width:32px;height:32px;border-radius:50%;background:#e74c3c;color:#fff;font-size:10px;line-height:32px;text-align:center">D</div>
<div class="t" style="left:1277px;top:382px;font-size:16.5px;color:#5c5c5c">darren</div>
<svg class="a" style="left:1511.5px;top:382.8px" width="25" height="25" viewBox="0 0 24 24"><path fill="#585858" d="M3 17.25V21h3.75L17.81 9.94l-3.75-3.75L3 17.25zM20.71 7.04a1 1 0 0 0 0-1.41l-2.34-2.34a1 1 0 0 0-1.41 0l-1.83 1.83 3.75 3.75 1.83-1.83z"/></svg>
<svg class="a" style="left:1561.5px;top:382.8px" width="25" height="25" viewBox="0 0 24 24"><path fill="#585858" d="M18 16.08c-.76 0-1.44.3-1.96.77L8.91 12.7c.05-.23.09-.46.09-.7s-.04-.47-.09-.7l7.05-4.11c.54.5 1.25.81 2.04.81 1.66 0 3-1.34 3-3s-1.34-3-3-3-3 1.34-3 3c0 .24.04.47.09.7L8.04 9.81C7.5 9.31 6.79 9 6 9c-1.66 0-3 1.34-3 3s1.34 3 3 3c.79 0 1.5-.31 2.04-.81l7.12 4.16c-.05.21-.08.43-.08.65 0 1.61 1.31 2.92 2.92 2.92 1.61 0 2.92-1.31 2.92-2.92s-1.310-2.92-2.92-2.92z"/></svg>
<svg class="a" style="left:1611.5px;top:382.8px" width="25" height="25" viewBox="0 0 24 24"><path fill="#585858" d="M5 4v2h14V4H5zm0 10h4v6h6v-6h4l-7-7-7 7z"/></svg>
<svg class="a" style="left:1661.5px;top:382.8px" width="25" height="25" viewBox="0 0 24 24"><path fill="#585858" d="M9 5v2h6.59L4 18.59 5.41 20 17 8.41V15h2V5z"/></svg>
<svg class="a" style="left:1711.5px;top:382.8px" width="25" height="25" viewBox="0 0 24 24"><path fill="#585858" d="M20 5.41L18.59 4 7 15.59V9H5v10h10v-2H8.41z"/></svg>
<svg class="a" style="left:1761.5px;top:382.8px" width="25" height="25" viewBox="0 0 24 24"><path fill="#585858" d="M6 19c0 1.1.9 2 2 2h8c1.1 0 2-.9 2-2V7H6v12zM19 4h-3.5l-1-1h-5l-1 1H5v2h14V4z"/></svg>
<svg class="a" style="left:1813px;top:384px" width="24" height="22" viewBox="0 0 24 22"><path d="M6 0.9H17.2a1.8 1.8 0 0 1 1.8 1.8V9.5" fill="none" stroke="#4a4a4a" stroke-width="1.5"/><path d="M6 0.9 0.8 6V19.5a1.8 1.8 0 0 0 1.8 1.8H11.5" fill="none" stroke="#4a4a4a" stroke-width="1.5"/><path d="M1 6.2H6.2V1" fill="#ddd" stroke="#888" stroke-width="1.2"/><path d="M8.2 4.7H16M2.3 8.5H16M2.3 11.5H9M2.3 15.2H13M2.3 18.3H13.2" stroke="#4a4a4a" stroke-width="1.4"/><path d="M11.5 11.2H23.2L18.7 16.2V21.5L16.2 20V16.2Z" fill="#3e3e3e"/></svg>
<svg class="a" style="left:1862px;top:392px" width="25" height="18" viewBox="0 0 25 18"><rect x="0" y="0" width="25" height="17.7" rx="2.2" fill="#3d3d3d"/><circle cx="7" cy="9.2" r="4.4" fill="none" stroke="#fff" stroke-width="1.1"/><path d="M7 4.9V9.2H2.7" fill="none" stroke="#fff" stroke-width="1"/><path d="M14.3 4.2V14.6H22.7" fill="none" stroke="#fff" stroke-width="1"/><path d="M15.4 12.2 16.6 10.8 17.6 11.8 18.6 9.6 19.6 6.2 20.6 10.6 21.8 9.2" fill="none" stroke="#fff" stroke-width="0.9"/></svg>
<div class="a" style="left:167px;top:418px;width:1733px;height:48px;background:#fff"></div>
<div class="a" style="left:167px;top:466px;width:1733px;height:1px;background:#dcdcdc"></div>
<div class="t" style="left:192px;top:434.7px;font-size:16.4px;letter-spacing:0.22px;color:#5c5c5c">Demo</div>
<svg class="a" style="left:542.5px;top:429.3px" width="24.5" height="24.5" viewBox="0 0 24 24"><path fill="#1170bd" d="M21 3 3 10.53v.98l6.84 2.65L12.48 21h.98L21 3z"/></svg>
<svg class="a" style="left:740px;top:425px" width="34" height="34" viewBox="-17 -17 34 34"><circle cx="0" cy="0" r="15.6" fill="#fff" stroke="#e6e6e6" stroke-width="0.9"/><path d="M-5.3,-6.2 C-2.5,-5.6 0.8,-3.2 3.6,0.6 M-5.3,-6.2 C-4.9,-4.2 -4.4,-2.6 -3.6,-1.2" fill="none" stroke="#3e6e8e" stroke-width="0.75"/><text x="-9.4" y="4.9" font-family="Liberation Sans" font-weight="bold" font-size="4.2" fill="#2b6c96">My</text><text x="-1.4" y="4.9" font-family="Liberation Sans" font-weight="bold" font-size="4.2" fill="#e89a2c">SQL</text></svg>
<div class="t" style="left:779px;top:432.5px;font-size:16.5px;color:#5c5c5c">mysql</div>
<div class="t" style="left:1003px;top:433.4px;font-size:17px;color:#5c5c5c">Mar, 14, 2023</div>
<div class="a" style="left:1240px;top:426px;width:32px;height:32px;border-radius:50%;background:#e74c3c;color:#fff;font-size:10px;line-height:32px;text-align:center">D</div>
<div class="t" style="left:1277px;top:431px;font-size:16.5px;color:#5c5c5c">darren</div>
<svg class="a" style="left:1511.5px;top:431.8px" width="25" height="25" viewBox="0 0 24 24"><path fill="#585858" d="M3 17.25V21h3.75L17.81 9.94l-3.75-3.75L3 17.25zM20.71 7.04a1 1 0 0 0 0-1.41l-2.34-2.34a1 1 0 0 0-1.41 0l-1.83 1.83 3.75 3.75 1.83-1.83z"/></svg>
<svg class="a" style="left:1561.5px;top:431.8px" width="25" height="25" viewBox="0 0 24 24"><path fill="#585858" d="M18 16.08c-.76 0-1.44.3-1.96.77L8.91 12.7c.05-.23.09-.46.09-.7s-.04-.47-.09-.7l7.05-4.11c.54.5 1.25.81 2.04.81 1.66 0 3-1.34 3-3s-1.34-3-3-3-3 1.34-3 3c0 .24.04.47.09.7L8.04 9.81C7.5 9.31 6.79 9 6 9c-1.66 0-3 1.34-3 3s1.34 3 3 3c.79 0 1.5-.31 2.04-.81l7.12 4.16c-.05.21-.08.43-.08.65 0 1.61 1.31 2.92 2.92 2.92 1.61 0 2.92-1.31 2.92-2.92s-1.310-2.92-2.92-2.92z"/></svg>
<svg class="a" style="left:1611.5px;top:431.8px" width="25" height="25" viewBox="0 0 24 24"><path fill="#585858" d="M5 4v2h14V4H5zm0 10h4v6h6v-6h4l-7-7-7 7z"/></svg>
<svg class="a" style="left:1661.5px;top:431.8px" width="25" height="25" viewBox="0 0 24 24"><path fill="#585858" d="M9 5v2h6.59L4 18.59 5.41 20 17 8.41V15h2V5z"/></svg>
<svg class="a" style="left:1711.5px;top:431.8px" width="25" height="25" viewBox="0 0 24 24"><path fill="#585858" d="M20 5.41L18.59 4 7 15.59V9H5v10h10v-2H8.41z"/></svg>
<svg class="a" style="left:1761.5px;top:431.8px" width="25" height="25" viewBox="0 0 24 24"><path fill="#585858" d="M6 19c0 1.1.9 2 2 2h8c1.1 0 2-.9 2-2V7H6v12zM19 4h-3.5l-1-1h-5l-1 1H5v2h14V4z"/></svg>
<svg class="a" style="left:1813px;top:433px" width="24" height="22" viewBox="0 0 24 22"><path d="M6 0.9H17.2a1.8 1.8 0 0 1 1.8 1.8V9.5" fill="none" stroke="#4a4a4a" stroke-width="1.5"/><path d="M6 0.9 0.8 6V19.5a1.8 1.8 0 0 0 1.8 1.8H11.5" fill="none" stroke="#4a4a4a" stroke-width="1.5"/><path d="M1 6.2H6.2V1" fill="#ddd" stroke="#888" stroke-width="1.2"/><path d="M8.2 4.7H16M2.3 8.5H16M2.3 11.5H9M2.3 15.2H13M2.3 18.3H13.2" stroke="#4a4a4a" stroke-width="1.4"/><path d="M11.5 11.2H23.2L18.7 16.2V21.5L16.2 20V16.2Z" fill="#3e3e3e"/></svg>
<svg class="a" style="left:1862px;top:441px" width="25" height="18" viewBox="0 0 25 18"><rect x="0" y="0" width="25" height="17.7" rx="2.2" fill="#3d3d3d"/><circle cx="7" cy="9.2" r="4.4" fill="none" stroke="#fff" stroke-width="1.1"/><path d="M7 4.9V9.2H2.7" fill="none" stroke="#fff" stroke-width="1"/><path d="M14.3 4.2V14.6H22.7" fill="none" stroke="#fff" stroke-width="1"/><path d="M15.4 12.2 16.6 10.8 17.6 11.8 18.6 9.6 19.6 6.2 20.6 10.6 21.8 9.2" fill="none" stroke="#fff" stroke-width="0.9"/></svg>
<div class="a" style="left:167px;top:467px;width:1733px;height:49px;background:#f4f4f4"></div>
<div class="a" style="left:167px;top:516px;width:1733px;height:1px;background:#dcdcdc"></div>
<div class="t" style="left:192px;top:483.7px;font-size:16.4px;letter-spacing:0.22px;color:#5c5c5c">Mongo_InExpCheck</div>
<svg class="a" style="left:740px;top:474px" width="34" height="34" viewBox="-17 -17 34 34"><circle cx="0" cy="0" r="15.6" fill="#fff" stroke="#e6e6e6" stroke-width="0.9"/><path d="M-9,-7.5 C-4,-9.5 4,-9.5 8.6,-7.5 V-1 C8.6,3.5 4,7 -0.2,9.5 C-4.5,7 -9,3.5 -9,-1 Z" fill="#3b2b1d" stroke="#5fbf4a" stroke-width="0.7"/><ellipse cx="-0.2" cy="-1.2" rx="3.5" ry="6.4" fill="#4fa94a"/><rect x="-0.6" y="4.5" width="0.9" height="3" fill="#c8c0a0"/></svg>
<div class="t" style="left:779px;top:481.5px;font-size:16.5px;color:#5c5c5c">mongo</div>
<div class="t" style="left:1003px;top:482.4px;font-size:17px;color:#5c5c5c">Mar, 14, 2023</div>
<div class="a" style="left:1240px;top:475px;width:32px;height:32px;border-radius:50%;background:#d35400;color:#fff;font-size:10px;line-height:32px;text-align:center">VK</div>
<div class="t" style="left:1277px;top:480px;font-size:16.5px;color:#5c5c5c">vivek kumar</div>
<svg class="a" style="left:1511.5px;top:480.8px" width="25" height="25" viewBox="0 0 24 24"><path fill="#585858" d="M3 17.25V21h3.75L17.81 9.94l-3.75-3.75L3 17.25zM20.71 7.04a1 1 0 0 0 0-1.41l-2.34-2.34a1 1 0 0 0-1.41 0l-1.83 1.83 3.75 3.75 1.83-1.83z"/></svg>
<svg class="a" style="left:1561.5px;top:480.8px" width="25" height="25" viewBox="0 0 24 24"><path fill="#585858" d="M18 16.08c-.76 0-1.44.3-1.96.77L8.91 12.7c.05-.23.09-.46.09-.7s-.04-.47-.09-.7l7.05-4.11c.54.5 1.25.81 2.04.81 1.66 0 3-1.34 3-3s-1.34-3-3-3-3 1.34-3 3c0 .24.04.47.09.7L8.04 9.81C7.5 9.31 6.79 9 6 9c-1.66 0-3 1.34-3 3s1.34 3 3 3c.79 0 1.5-.31 2.04-.81l7.12 4.16c-.05.21-.08.43-.08.65 0 1.61 1.31 2.92 2.92 2.92 1.61 0 2.92-1.31 2.92-2.92s-1.310-2.92-2.92-2.92z"/></svg>
<svg class="a" style="left:1611.5px;top:480.8px" width="25" height="25" viewBox="0 0 24 24"><path fill="#585858" d="M5 4v2h14V4H5zm0 10h4v6h6v-6h4l-7-7-7 7z"/></svg>
<svg class="a" style="left:1661.5px;top:480.8px" width="25" height="25" viewBox="0 0 24 24"><path fill="#585858" d="M9 5v2h6.59L4 18.59 5.41 20 17 8.41V15h2V5z"/></svg>
<svg class="a" style="left:1711.5px;top:480.8px" width="25" height="25" viewBox="0 0 24 24"><path fill="#585858" d="M20 5.41L18.59 4 7 15.59V9H5v10h10v-2H8.41z"/></svg>
<svg class="a" style="left:1761.5px;top:480.8px" width="25" height="25" viewBox="0 0 24 24"><path fill="#585858" d="M6 19c0 1.1.9 2 2 2h8c1.1 0 2-.9 2-2V7H6v12zM19 4h-3.5l-1-1h-5l-1 1H5v2h14V4z"/></svg>
<svg class="a" style="left:1813px;top:482px" width="24" height="22" viewBox="0 0 24 22"><path d="M6 0.9H17.2a1.8 1.8 0 0 1 1.8 1.8V9.5" fill="none" stroke="#4a4a4a" stroke-width="1.5"/><path d="M6 0.9 0.8 6V19.5a1.8 1.8 0 0 0 1.8 1.8H11.5" fill="none" stroke="#4a4a4a" stroke-width="1.5"/><path d="M1 6.2H6.2V1" fill="#ddd" stroke="#888" stroke-width="1.2"/><path d="M8.2 4.7H16M2.3 8.5H16M2.3 11.5H9M2.3 15.2H13M2.3 18.3H13.2" stroke="#4a4a4a" stroke-width="1.4"/><path d="M11.5 11.2H23.2L18.7 16.2V21.5L16.2 20V16.2Z" fill="#3e3e3e"/></svg>
<svg class="a" style="left:1862px;top:490px" width="25" height="18" viewBox="0 0 25 18"><rect x="0" y="0" width="25" height="17.7" rx="2.2" fill="#3d3d3d"/><circle cx="7" cy="9.2" r="4.4" fill="none" stroke="#fff" stroke-width="1.1"/><path d="M7 4.9V9.2H2.7" fill="none" stroke="#fff" stroke-width="1"/><path d="M14.3 4.2V14.6H22.7" fill="none" stroke="#fff" stroke-width="1"/><path d="M15.4 12.2 16.6 10.8 17.6 11.8 18.6 9.6 19.6 6.2 20.6 10.6 21.8 9.2" fill="none" stroke="#fff" stroke-width="0.9"/></svg>
<div class="a" style="left:167px;top:517px;width:1733px;height:48px;background:#fff"></div>
<div class="a" style="left:167px;top:565px;width:1733px;height:1px;background:#dcdcdc"></div>
<div class="t" style="left:192px;top:533.7px;font-size:16.4px;letter-spacing:0.22px;color:#5c5c5c">vivek Oracle Dataset</div>
<svg class="a" style="left:740px;top:524px" width="34" height="34" viewBox="-17 -17 34 34"><circle cx="0" cy="0" r="15.6" fill="#fff" stroke="#e6e6e6" stroke-width="0.9"/><rect x="-6.2" y="-9.6" width="12.4" height="6.4" rx="3.2" fill="none" stroke="#c74634" stroke-width="1.8"/><rect x="-10" y="-1" width="20" height="1.9" fill="#d86a5f" opacity=".8"/></svg>
<div class="t" style="left:779px;top:531.5px;font-size:16.5px;color:#5c5c5c">oracle</div>
<div class="t" style="left:1003px;top:532.4px;font-size:17px;color:#5c5c5c">Mar, 14, 2023</div>
<div class="a" style="left:1240px;top:525px;width:32px;height:32px;border-radius:50%;background:#d35400;color:#fff;font-size:10px;line-height:32px;text-align:center">VK</div>
<div class="t" style="left:1277px;top:530px;font-size:16.5px;color:#5c5c5c">vivek kumar</div>
<svg class="a" style="left:1511.5px;top:530.8px" width="25" height="25" viewBox="0 0 24 24"><path fill="#585858" d="M3 17.25V21h3.75L17.81 9.94l-3.75-3.75L3 17.25zM20.71 7.04a1 1 0 0 0 0-1.41l-2.34-2.34a1 1 0 0 0-1.41 0l-1.83 1.83 3.75 3.75 1.83-1.83z"/></svg>
<svg class="a" style="left:1561.5px;top:530.8px" width="25" height="25" viewBox="0 0 24 24"><path fill="#585858" d="M18 16.08c-.76 0-1.44.3-1.96.77L8.91 12.7c.05-.23.09-.46.09-.7s-.04-.47-.09-.7l7.05-4.11c.54.5 1.25.81 2.04.81 1.66 0 3-1.34 3-3s-1.34-3-3-3-3 1.34-3 3c0 .24.04.47.09.7L8.04 9.81C7.5 9.31 6.79 9 6 9c-1.66 0-3 1.34-3 3s1.34 3 3 3c.79 0 1.5-.31 2.04-.81l7.12 4.16c-.05.21-.08.43-.08.65 0 1.61 1.31 2.92 2.92 2.92 1.61 0 2.92-1.31 2.92-2.92s-1.310-2.92-2.92-2.92z"/></svg>
<svg class="a" style="left:1611.5px;top:530.8px" width="25" height="25" viewBox="0 0 24 24"><path fill="#585858" d="M5 4v2h14V4H5zm0 10h4v6h6v-6h4l-7-7-7 7z"/></svg>
<svg class="a" style="left:1661.5px;top:530.8px" width="25" height="25" viewBox="0 0 24 24"><path fill="#585858" d="M9 5v2h6.59L4 18.59 5.41 20 17 8.41V15h2V5z"/></svg>
<svg class="a" style="left:1711.5px;top:530.8px" width="25" height="25" viewBox="0 0 24 24"><path fill="#585858" d="M20 5.41L18.59 4 7 15.59V9H5v10h10v-2H8.41z"/></svg>
<svg class="a" style="left:1761.5px;top:530.8px" width="25" height="25" viewBox="0 0 24 24"><path fill="#585858" d="M6 19c0 1.1.9 2 2 2h8c1.1 0 2-.9 2-2V7H6v12zM19 4h-3.5l-1-1h-5l-1 1H5v2h14V4z"/></svg>
<svg class="a" style="left:1813px;top:532px" width="24" height="22" viewBox="0 0 24 22"><path d="M6 0.9H17.2a1.8 1.8 0 0 1 1.8 1.8V9.5" fill="none" stroke="#4a4a4a" stroke-width="1.5"/><path d="M6 0.9 0.8 6V19.5a1.8 1.8 0 0 0 1.8 1.8H11.5" fill="none" stroke="#4a4a4a" stroke-width="1.5"/><path d="M1 6.2H6.2V1" fill="#ddd" stroke="#888" stroke-width="1.2"/><path d="M8.2 4.7H16M2.3 8.5H16M2.3 11.5H9M2.3 15.2H13M2.3 18.3H13.2" stroke="#4a4a4a" stroke-width="1.4"/><path d="M11.5 11.2H23.2L18.7 16.2V21.5L16.2 20V16.2Z" fill="#3e3e3e"/></svg>
<svg class="a" style="left:1862px;top:540px" width="25" height="18" viewBox="0 0 25 18"><rect x="0" y="0" width="25" height="17.7" rx="2.2" fill="#3d3d3d"/><circle cx="7" cy="9.2" r="4.4" fill="none" stroke="#fff" stroke-width="1.1"/><path d="M7 4.9V9.2H2.7" fill="none" stroke="#fff" stroke-width="1"/><path d="M14.3 4.2V14.6H22.7" fill="none" stroke="#fff" stroke-width="1"/><path d="M15.4 12.2 16.6 10.8 17.6 11.8 18.6 9.6 19.6 6.2 20.6 10.6 21.8 9.2" fill="none" stroke="#fff" stroke-width="0.9"/></svg>
<div class="a" style="left:167px;top:566px;width:1733px;height:48px;background:#f4f4f4"></div>
<div class="a" style="left:167px;top:614px;width:1733px;height:1px;background:#dcdcdc"></div>
<div class="t" style="left:192px;top:582.7px;font-size:16.4px;letter-spacing:0.22px;color:#5c5c5c">test</div>
<svg class="a" style="left:740px;top:573px" width="34" height="34" viewBox="-17 -17 34 34"><circle cx="0" cy="0" r="15.6" fill="#fff" stroke="#e6e6e6" stroke-width="0.9"/><path d="M-5.3,-6.2 C-2.5,-5.6 0.8,-3.2 3.6,0.6 M-5.3,-6.2 C-4.9,-4.2 -4.4,-2.6 -3.6,-1.2" fill="none" stroke="#3e6e8e" stroke-width="0.75"/><text x="-9.4" y="4.9" font-family="Liberation Sans" font-weight="bold" font-size="4.2" fill="#2b6c96">My</text><text x="-1.4" y="4.9" font-family="Liberation Sans" font-weight="bold" font-size="4.2" fill="#e89a2c">SQL</text></svg>
<div class="t" style="left:779px;top:580.5px;font-size:16.5px;color:#5c5c5c">mysql</div>
<div class="t" style="left:1003px;top:581.4px;font-size:17px;color:#5c5c5c">Mar, 07, 2023</div>
<div class="a" style="left:1240px;top:574px;width:32px;height:32px;border-radius:50%;background:#d35400;color:#fff;font-size:10px;line-height:32px;text-align:center">VK</div>
<div class="t" style="left:1277px;top:579px;font-size:16.5px;color:#5c5c5c">vivek kumar</div>
<svg class="a" style="left:1511.5px;top:579.8px" width="25" height="25" viewBox="0 0 24 24"><path fill="#585858" d="M3 17.25V21h3.75L17.81 9.94l-3.75-3.75L3 17.25zM20.71 7.04a1 1 0 0 0 0-1.41l-2.34-2.34a1 1 0 0 0-1.41 0l-1.83 1.83 3.75 3.75 1.83-1.83z"/></svg>
<svg class="a" style="left:1561.5px;top:579.8px" width="25" height="25" viewBox="0 0 24 24"><path fill="#585858" d="M18 16.08c-.76 0-1.44.3-1.96.77L8.91 12.7c.05-.23.09-.46.09-.7s-.04-.47-.09-.7l7.05-4.11c.54.5 1.25.81 2.04.81 1.66 0 3-1.34 3-3s-1.34-3-3-3-3 1.34-3 3c0 .24.04.47.09.7L8.04 9.81C7.5 9.31 6.79 9 6 9c-1.66 0-3 1.34-3 3s1.34 3 3 3c.79 0 1.5-.31 2.04-.81l7.12 4.16c-.05.21-.08.43-.08.65 0 1.61 1.31 2.92 2.92 2.92 1.61 0 2.92-1.31 2.92-2.92s-1.310-2.92-2.92-2.92z"/></svg>
<svg class="a" style="left:1611.5px;top:579.8px" width="25" height="25" viewBox="0 0 24 24"><path fill="#585858" d="M5 4v2h14V4H5zm0 10h4v6h6v-6h4l-7-7-7 7z"/></svg>
<svg class="a" style="left:1661.5px;top:579.8px" width="25" height="25" viewBox="0 0 24 24"><path fill="#585858" d="M9 5v2h6.59L4 18.59 5.41 20 17 8.41V15h2V5z"/></svg>
<svg class="a" style="left:1711.5px;top:579.8px" width="25" height="25" viewBox="0 0 24 24"><path fill="#585858" d="M20 5.41L18.59 4 7 15.59V9H5v10h10v-2H8.41z"/></svg>
<svg class="a" style="left:1761.5px;top:579.8px" width="25" height="25" viewBox="0 0 24 24"><path fill="#585858" d="M6 19c0 1.1.9 2 2 2h8c1.1 0 2-.9 2-2V7H6v12zM19 4h-3.5l-1-1h-5l-1 1H5v2h14V4z"/></svg>
<svg class="a" style="left:1813px;top:581px" width="24" height="22" viewBox="0 0 24 22"><path d="M6 0.9H17.2a1.8 1.8 0 0 1 1.8 1.8V9.5" fill="none" stroke="#4a4a4a" stroke-width="1.5"/><path d="M6 0.9 0.8 6V19.5a1.8 1.8 0 0 0 1.8 1.8H11.5" fill="none" stroke="#4a4a4a" stroke-width="1.5"/><path d="M1 6.2H6.2V1" fill="#ddd" stroke="#888" stroke-width="1.2"/><path d="M8.2 4.7H16M2.3 8.5H16M2.3 11.5H9M2.3 15.2H13M2.3 18.3H13.2" stroke="#4a4a4a" stroke-width="1.4"/><path d="M11.5 11.2H23.2L18.7 16.2V21.5L16.2 20V16.2Z" fill="#3e3e3e"/></svg>
<svg class="a" style="left:1862px;top:589px" width="25" height="18" viewBox="0 0 25 18"><rect x="0" y="0" width="25" height="17.7" rx="2.2" fill="#3d3d3d"/><circle cx="7" cy="9.2" r="4.4" fill="none" stroke="#fff" stroke-width="1.1"/><path d="M7 4.9V9.2H2.7" fill="none" stroke="#fff" stroke-width="1"/><path d="M14.3 4.2V14.6H22.7" fill="none" stroke="#fff" stroke-width="1"/><path d="M15.4 12.2 16.6 10.8 17.6 11.8 18.6 9.6 19.6 6.2 20.6 10.6 21.8 9.2" fill="none" stroke="#fff" stroke-width="0.9"/></svg>
<div class="a" style="left:167px;top:615px;width:1733px;height:48px;background:#fff"></div>
<div class="a" style="left:167px;top:663px;width:1733px;height:1px;background:#dcdcdc"></div>
<div class="t" style="left:192px;top:631.7px;font-size:16.4px;letter-spacing:0.22px;color:#5c5c5c">test</div>
<svg class="a" style="left:740px;top:622px" width="34" height="34" viewBox="-17 -17 34 34"><circle cx="0" cy="0" r="15.6" fill="#fff" stroke="#e6e6e6" stroke-width="0.9"/><path d="M-5.3,-6.2 C-2.5,-5.6 0.8,-3.2 3.6,0.6 M-5.3,-6.2 C-4.9,-4.2 -4.4,-2.6 -3.6,-1.2" fill="none" stroke="#3e6e8e" stroke-width="0.75"/><text x="-9.4" y="4.9" font-family="Liberation Sans" font-weight="bold" font-size="4.2" fill="#2b6c96">My</text><text x="-1.4" y="4.9" font-family="Liberation Sans" font-weight="bold" font-size="4.2" fill="#e89a2c">SQL</text></svg>
<div class="t" style="left:779px;top:629.5px;font-size:16.5px;color:#5c5c5c">mysql</div>
<div class="t" style="left:1003px;top:630.4px;font-size:17px;color:#5c5c5c">Mar, 07, 2023</div>
<div class="a" style="left:1240px;top:623px;width:32px;height:32px;border-radius:50%;background:#d35400;color:#fff;font-size:10px;line-height:32px;text-align:center">VK</div>
<div class="t" style="left:1277px;top:628px;font-size:16.5px;color:#5c5c5c">vivek kumar</div>
<svg class="a" style="left:1511.5px;top:628.8px" width="25" height="25" viewBox="0 0 24 24"><path fill="#585858" d="M3 17.25V21h3.75L17.81 9.94l-3.75-3.75L3 17.25zM20.71 7.04a1 1 0 0 0 0-1.41l-2.34-2.34a1 1 0 0 0-1.41 0l-1.83 1.83 3.75 3.75 1.83-1.83z"/></svg>
<svg class="a" style="left:1561.5px;top:628.8px" width="25" height="25" viewBox="0 0 24 24"><path fill="#585858" d="M18 16.08c-.76 0-1.44.3-1.96.77L8.91 12.7c.05-.23.09-.46.09-.7s-.04-.47-.09-.7l7.05-4.11c.54.5 1.25.81 2.04.81 1.66 0 3-1.34 3-3s-1.34-3-3-3-3 1.34-3 3c0 .24.04.47.09.7L8.04 9.81C7.5 9.31 6.79 9 6 9c-1.66 0-3 1.34-3 3s1.34 3 3 3c.79 0 1.5-.31 2.04-.81l7.12 4.16c-.05.21-.08.43-.08.65 0 1.61 1.31 2.92 2.92 2.92 1.61 0 2.92-1.31 2.92-2.92s-1.310-2.92-2.92-2.92z"/></svg>
<svg class="a" style="left:1611.5px;top:628.8px" width="25" height="25" viewBox="0 0 24 24"><path fill="#585858" d="M5 4v2h14V4H5zm0 10h4v6h6v-6h4l-7-7-7 7z"/></svg>
<svg class="a" style="left:1661.5px;top:628.8px" width="25" height="25" viewBox="0 0 24 24"><path fill="#585858" d="M9 5v2h6.59L4 18.59 5.41 20 17 8.41V15h2V5z"/></svg>
<svg class="a" style="left:1711.5px;top:628.8px" width="25" height="25" viewBox="0 0 24 24"><path fill="#585858" d="M20 5.41L18.59 4 7 15.59V9H5v10h10v-2H8.41z"/></svg>
<svg class="a" style="left:1761.5px;top:628.8px" width="25" height="25" viewBox="0 0 24 24"><path fill="#585858" d="M6 19c0 1.1.9 2 2 2h8c1.1 0 2-.9 2-2V7H6v12zM19 4h-3.5l-1-1h-5l-1 1H5v2h14V4z"/></svg>
<svg class="a" style="left:1813px;top:630px" width="24" height="22" viewBox="0 0 24 22"><path d="M6 0.9H17.2a1.8 1.8 0 0 1 1.8 1.8V9.5" fill="none" stroke="#4a4a4a" stroke-width="1.5"/><path d="M6 0.9 0.8 6V19.5a1.8 1.8 0 0 0 1.8 1.8H11.5" fill="none" stroke="#4a4a4a" stroke-width="1.5"/><path d="M1 6.2H6.2V1" fill="#ddd" stroke="#888" stroke-width="1.2"/><path d="M8.2 4.7H16M2.3 8.5H16M2.3 11.5H9M2.3 15.2H13M2.3 18.3H13.2" stroke="#4a4a4a" stroke-width="1.4"/><path d="M11.5 11.2H23.2L18.7 16.2V21.5L16.2 20V16.2Z" fill="#3e3e3e"/></svg>
<svg class="a" style="left:1862px;top:638px" width="25" height="18" viewBox="0 0 25 18"><rect x="0" y="0" width="25" height="17.7" rx="2.2" fill="#3d3d3d"/><circle cx="7" cy="9.2" r="4.4" fill="none" stroke="#fff" stroke-width="1.1"/><path d="M7 4.9V9.2H2.7" fill="none" stroke="#fff" stroke-width="1"/><path d="M14.3 4.2V14.6H22.7" fill="none" stroke="#fff" stroke-width="1"/><path d="M15.4 12.2 16.6 10.8 17.6 11.8 18.6 9.6 19.6 6.2 20.6 10.6 21.8 9.2" fill="none" stroke="#fff" stroke-width="0.9"/></svg>
<div class="t" style="left:1432px;top:697px;font-size:14.8px;color:#777">Items per page:</div>
<div class="t" style="left:1546px;top:696px;font-size:15px;color:#222">10</div>
<div class="a" style="left:1545px;top:721px;width:70px;height:1px;background:#777"></div>
<svg class="a" style="left:1598px;top:701px" width="12" height="8" viewBox="0 0 12 8"><path d="M0 0h12L6 7z" fill="#666"/></svg>
<div class="t" style="left:1661px;top:697px;font-size:15.2px;color:#777">1 – 10 of 349</div>
<svg class="a" style="left:1808px;top:697px" width="14" height="20" viewBox="0 0 14 20"><path d="M11 2 3 10l8 8" fill="none" stroke="#c2c2c2" stroke-width="2.5"/></svg>
<svg class="a" style="left:1859px;top:697px" width="14" height="20" viewBox="0 0 14 20"><path d="M3 2l8 8-8 8" fill="none" stroke="#555" stroke-width="2.5"/></svg>
<div class="a" style="left:177px;top:172px;width:193px;height:46px;border:5px solid #f5aa12;border-radius:8px"></div>
<svg class="a" style="left:130px;top:148px" width="66" height="44" viewBox="130 148 66 44"><path d="M193,170 Q168,150 152,150 A20,20 0 0 0 152,190 Q168,190 193,170 Z" fill="#f5aa12"/></svg><div class="t" style="left:146px;top:161.4px;width:20px;text-align:center;font-size:22.4px;color:#fff"></div>
<svg class="a" style="left:0;top:0" width="200" height="200" viewBox="0 0 200 200"><path d="M152.9,166.2 157.9,162.6 V177.9" fill="none" stroke="#fff" stroke-width="2.3" stroke-linejoin="round"/></svg>
<div class="a" style="left:1774px;top:231px;width:130px;height:85px;background:#fff;border-radius:5px;box-shadow:0 2px 6px rgba(0,0,0,.22)"></div>
<svg class="a" style="left:1850px;top:211px" width="44" height="22" viewBox="0 0 44 22"><path d="M4 20.5 22 3 40 20.5" fill="#fff" stroke="rgba(0,0,0,.06)" stroke-width="1"/><rect x="0" y="20" width="44" height="4" fill="#fff"/></svg>
<div class="a" style="left:1790px;top:248px;width:96px;height:47px;border:2px solid #f0ad1e;border-radius:7px"></div>
<div class="t" style="left:1804px;top:265px;font-size:17.6px;color:#222">Visualize</div>
<div class="a" style="left:1847px;top:180.5px;width:50px;height:44px;border:4px solid #f5aa12;border-radius:50%"></div>
<svg class="a" style="left:1809px;top:158px" width="66" height="44" viewBox="1809 158 66 44"><path d="M1872,180 Q1847,160 1831,160 A20,20 0 0 0 1831,200 Q1847,200 1872,180 Z" fill="#f5aa12"/></svg><div class="t" style="left:1826px;top:171.4px;width:20px;text-align:center;font-size:22.4px;color:#fff">2</div>
</body></html>
